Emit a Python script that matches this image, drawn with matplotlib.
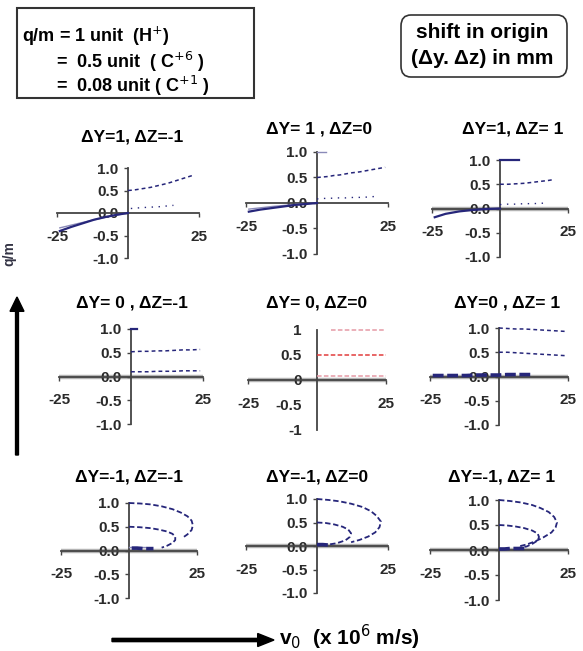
import matplotlib
matplotlib.use("Agg")
import matplotlib.pyplot as plt
from matplotlib.patches import FancyBboxPatch, Rectangle, FancyArrow

plt.rcParams['font.family'] = ['Liberation Sans', 'DejaVu Sans']

W, H = 583, 651

# panel titles, row by row
titles = ["ΔY=1, ΔZ=-1", "ΔY= 1 , ΔZ=0", "ΔY=1, ΔZ= 1",
          "ΔY= 0 , ΔZ=-1", "ΔY= 0, ΔZ=0", "ΔY=0 , ΔZ= 1",
          "ΔY=-1, ΔZ=-1", "ΔY=-1, ΔZ=0", "ΔY=-1, ΔZ= 1"]

x_ticks = [-25, 25]
y_ticks = [-1.0, -0.5, 0.0, 0.5, 1.0]

# ---- data: v0 (x 1e6 m/s) vs q/m ----
# panel 1  (dY=1, dZ=-1)
p1_hi_v = [0, 2, 4, 6, 8, 10, 12, 14, 16, 18, 20, 23]
p1_hi_q = [0.50, 0.51, 0.53, 0.55, 0.57, 0.60, 0.63, 0.66, 0.70, 0.74, 0.78, 0.84]
p1_lo_v = [1, 3, 5, 8, 11, 16]
p1_lo_q = [0.10, 0.11, 0.12, 0.13, 0.14, 0.17]
p1_neg_v = [-24, -20, -16, -12, -8, -4, 0]
p1_neg_q = [-0.40, -0.31, -0.23, -0.15, -0.09, -0.04, 0.0]
p1_neg2_v = [-24, -18, -12, -6, 0]
p1_neg2_q = [-0.33, -0.24, -0.15, -0.07, 0.0]

# panel 2  (dY=1, dZ=0)
p2_top_v = [0, 3]
p2_top_q = [1.0, 1.0]
p2_hi_v = [0, 2, 4, 6, 8, 10, 12, 15, 18, 21, 24]
p2_hi_q = [0.50, 0.51, 0.52, 0.54, 0.55, 0.57, 0.59, 0.61, 0.64, 0.67, 0.70]
p2_lo_v = [0, 2, 4, 7, 10, 13, 16, 21]
p2_lo_q = [0.08, 0.09, 0.09, 0.10, 0.10, 0.11, 0.11, 0.13]
p2_neg_v = [-24, -20, -16, -12, -8, -4, 0]
p2_neg_q = [-0.17, -0.13, -0.10, -0.07, -0.04, -0.02, 0.0]
p2_neg2_v = [-24, -16, -8, 0]
p2_neg2_q = [-0.12, -0.07, -0.03, 0.0]

# panel 3  (dY=1, dZ=1)
p3_top_v = [0, 7]
p3_top_q = [1.0, 1.0]
p3_hi_v = [0, 3, 6, 9, 12, 15, 18, 20]
p3_hi_q = [0.50, 0.50, 0.51, 0.52, 0.54, 0.56, 0.58, 0.60]
p3_lo_v = [0, 3, 6, 9, 12, 16]
p3_lo_q = [0.08, 0.09, 0.09, 0.10, 0.10, 0.11]
p3_neg_v = [-24, -20, -15, -10, -5, 0]
p3_neg_q = [-0.18, -0.11, -0.06, -0.03, -0.01, 0.0]

# panel 4  (dY=0, dZ=-1)
p4_top_v = [0, 2]
p4_top_q = [1.0, 1.0]
p4_hi_v = [0, 3, 6, 9, 12, 15, 18, 21, 24]
p4_hi_q = [0.52, 0.53, 0.53, 0.54, 0.54, 0.55, 0.56, 0.56, 0.57]
p4_lo_v = [0, 3, 6, 9, 12, 15, 18, 21, 24]
p4_lo_q = [0.10, 0.10, 0.10, 0.11, 0.11, 0.11, 0.12, 0.12, 0.12]

# panel 5  (dY=0, dZ=0)
p5_top_v = [5, 8, 11, 14, 17, 20, 23, 25]
p5_top_q = [1.0, 1.0, 1.0, 1.0, 1.0, 1.0, 1.0, 1.0]
p5_hi_v = [0, 5, 10, 15, 20, 25]
p5_hi_q = [0.5, 0.5, 0.5, 0.5, 0.5, 0.5]
p5_lo_v = [0, 5, 10, 15, 20, 25]
p5_lo_q = [0.08, 0.08, 0.08, 0.08, 0.08, 0.08]

# panel 6  (dY=0, dZ=1)
p6_top_v = [0, 3, 6, 9, 12, 15, 18, 21, 24]
p6_top_q = [1.0, 0.99, 0.98, 0.98, 0.97, 0.96, 0.95, 0.94, 0.93]
p6_hi_v = [0, 3, 6, 9, 12, 15, 18, 21, 24]
p6_hi_q = [0.50, 0.50, 0.49, 0.48, 0.47, 0.46, 0.45, 0.44, 0.43]
p6_lo_v = [-24, -20, -16, -12, -8, -4, 0, 3, 6, 9, 12]
p6_lo_q = [0.02, 0.02, 0.02, 0.02, 0.03, 0.03, 0.03, 0.04, 0.04, 0.04, 0.04]

# panel 7  (dY=-1, dZ=-1)
p7_out_v = [0, 4, 8, 12, 16, 19, 21.5, 23, 23.5, 23, 21.5, 19.5]
p7_out_q = [1.0, 0.99, 0.97, 0.93, 0.87, 0.80, 0.72, 0.63, 0.53, 0.43, 0.34, 0.26]
p7_mid_v = [0, 4, 8, 11, 14, 16, 17, 17, 16, 14, 12]
p7_mid_q = [0.50, 0.49, 0.47, 0.44, 0.40, 0.35, 0.29, 0.22, 0.16, 0.10, 0.06]
p7_in_v = [1, 3, 5, 7, 9]
p7_in_q = [0.05, 0.05, 0.04, 0.04, 0.04]
p7_grey_v = [0, 6]
p7_grey_q = [0.08, 0.08]

# panel 8  (dY=-1, dZ=0)
p8_out_v = [0, 4, 8, 12, 16, 19, 21, 22.5, 22, 20.5, 18, 15, 12]
p8_out_q = [1.0, 0.98, 0.95, 0.90, 0.83, 0.74, 0.64, 0.52, 0.40, 0.29, 0.20, 0.13, 0.08]
p8_mid_v = [0, 3, 6, 9, 11, 12, 11.5, 10, 7, 4]
p8_mid_q = [0.50, 0.49, 0.46, 0.41, 0.35, 0.27, 0.19, 0.12, 0.06, 0.03]
p8_in_v = [0, 2, 4]
p8_in_q = [0.03, 0.03, 0.02]

# panel 9  (dY=-1, dZ=1)
p9_out_v = [0, 4, 8, 12, 15, 18, 20, 21, 20.5, 19, 16, 13, 10, 7]
p9_out_q = [1.0, 0.98, 0.95, 0.90, 0.84, 0.76, 0.66, 0.55, 0.45, 0.35, 0.25, 0.17, 0.11, 0.07]
p9_mid_v = [0, 3, 6, 9, 12, 14, 14.5, 14, 12, 10, 7]
p9_mid_q = [0.50, 0.49, 0.47, 0.44, 0.39, 0.33, 0.26, 0.19, 0.12, 0.07, 0.04]
p9_in_v = [0, 2, 4, 6, 8, 10]
p9_in_q = [0.02, 0.02, 0.03, 0.03, 0.03, 0.03]

# ---- styles ----
NAVY = '#26267a'
LIGHT = '#8a8ab8'
GREY = '#b4b4b4'
STY = {
    'dash':  dict(color=NAVY, lw=1.1, ls=(0, (2.5, 2))),
    'dots':  dict(color=NAVY, lw=1.0, ls=(0, (1, 4))),
    'solid': dict(color=NAVY, lw=1.6, ls='-'),
    'light': dict(color=LIGHT, lw=1.0, ls='-'),
    'thick': dict(color=NAVY, lw=2.6, ls=(0, (3, 1))),
    'arc':   dict(color=NAVY, lw=1.3, ls=(0, (3, 1.5))),
    'red':   dict(color='#e23c3c', lw=1.1, ls=(0, (3, 1.5))),
    'pink':  dict(color='#e59aa6', lw=1.1, ls=(0, (3, 1.5))),
}

panels = [
    [(p1_hi_v, p1_hi_q, 'dash'), (p1_lo_v, p1_lo_q, 'dots'),
     (p1_neg2_v, p1_neg2_q, 'light'), (p1_neg_v, p1_neg_q, 'solid')],
    [(p2_top_v, p2_top_q, 'light'), (p2_hi_v, p2_hi_q, 'dash'), (p2_lo_v, p2_lo_q, 'dots'),
     (p2_neg2_v, p2_neg2_q, 'light'), (p2_neg_v, p2_neg_q, 'solid')],
    [(p3_top_v, p3_top_q, 'solid'), (p3_hi_v, p3_hi_q, 'dash'), (p3_lo_v, p3_lo_q, 'dots'),
     (p3_neg_v, p3_neg_q, 'solid')],
    [(p4_top_v, p4_top_q, 'solid'), (p4_hi_v, p4_hi_q, 'dash'), (p4_lo_v, p4_lo_q, 'dash')],
    [(p5_top_v, p5_top_q, 'pink'), (p5_hi_v, p5_hi_q, 'red'), (p5_lo_v, p5_lo_q, 'pink')],
    [(p6_top_v, p6_top_q, 'dash'), (p6_hi_v, p6_hi_q, 'dash'), (p6_lo_v, p6_lo_q, 'thick')],
    [(p7_grey_v, p7_grey_q, 'light'), (p7_out_v, p7_out_q, 'arc'), (p7_mid_v, p7_mid_q, 'arc'),
     (p7_in_v, p7_in_q, 'thick')],
    [(p8_out_v, p8_out_q, 'arc'), (p8_mid_v, p8_mid_q, 'arc'), (p8_in_v, p8_in_q, 'thick')],
    [(p9_out_v, p9_out_q, 'arc'), (p9_mid_v, p9_mid_q, 'arc'), (p9_in_v, p9_in_q, 'thick')],
]
grey_axis = [False, False, True, True, True, True, True, True, True]

# axes boxes in pixels: x(-25), x(25), y(q=1), y(q=-1)
boxes = [(57, 199, 168, 258), (246, 388, 152, 254), (432, 568, 160, 257),
         (59, 203, 329, 424), (248, 386, 330, 430), (430, 568, 328, 425),
         (61, 197, 503, 598), (246, 388, 499, 593), (430, 568, 500, 600)]
title_pos = [(132, 137), (319, 129), (513, 129),
             (132, 303), (317, 303), (507, 303),
             (129, 477), (317, 477), (502, 477)]

fig = plt.figure(figsize=(W / 100, H / 100), dpi=100)

for i, (x0, x1, yt, yb) in enumerate(boxes):
    ax = fig.add_axes([x0 / W, 1 - yb / H, (x1 - x0) / W, (yb - yt) / H])
    ax.set_xlim(-25, 25)
    ax.set_ylim(-1, 1)
    ax.patch.set_alpha(0)
    if grey_axis[i]:
        ax.axhline(0, color=GREY, lw=3.2, zorder=1)
    for v, q, st in panels[i]:
        ax.plot(v, q, clip_on=False, zorder=3, **STY[st])
    for s in ['top', 'right']:
        ax.spines[s].set_visible(False)
    ax.spines['left'].set_position(('data', 0))
    ax.spines['bottom'].set_position(('data', 0))
    for s in ['left', 'bottom']:
        ax.spines[s].set_color('#444444')
        ax.spines[s].set_linewidth(1.3)
    ax.set_xticks(x_ticks)
    ax.set_xticklabels([str(t) for t in x_ticks])
    ax.set_yticks(y_ticks)
    if i == 4:
        ax.set_yticklabels(['-1', '-0.5', '0', '0.5', '1'])
        ax.tick_params(axis='y', length=0, pad=11)
    else:
        ax.set_yticklabels(['%.1f' % t for t in y_ticks])
        ax.tick_params(axis='y', length=3, width=1, color='#444444', pad=4)
    ax.tick_params(axis='x', length=3, width=1, color='#444444', pad=9)
    ax.tick_params(labelsize=11, labelcolor='#2a2a2a')
    for lab in ax.get_xticklabels() + ax.get_yticklabels():
        lab.set_fontweight('bold')
    fig.text(title_pos[i][0] / W, 1 - title_pos[i][1] / H, titles[i],
             ha='center', va='center', fontsize=12.5, fontweight='bold')

# legend box (top left)
fig.patches.append(Rectangle((17 / W, 1 - 98 / H), 237 / W, 90 / H,
                             transform=fig.transFigure, fill=False,
                             ec='#333333', lw=1.5))
fig.text(22 / W, 1 - 36 / H, r"q/m = 1 unit  (H$^{+}$)", fontsize=13,
         fontweight='bold', va='center')
fig.text(56 / W, 1 - 62 / H, r"=  0.5 unit  ( C$^{+6}$ )", fontsize=13,
         fontweight='bold', va='center')
fig.text(56 / W, 1 - 86 / H, r"=  0.08 unit ( C$^{+1}$ )", fontsize=13,
         fontweight='bold', va='center')

# shift-in-origin box (top right)
fig.patches.append(FancyBboxPatch((401 / W, 1 - 77 / H), 166 / W, 62 / H,
                                  boxstyle="round,pad=0,rounding_size=0.017",
                                  transform=fig.transFigure, fill=False,
                                  ec='#333333', lw=1.2))
fig.text(482 / W, 1 - 32 / H, "shift in origin", ha='center', va='center',
         fontsize=15, fontweight='bold')
fig.text(482 / W, 1 - 59 / H, "(Δy. Δz) in mm", ha='center', va='center',
         fontsize=15, fontweight='bold')

# big axis arrows
fig.patches.append(FancyArrow(
    17 / W, 1 - 455 / H, 0, 158 / H, width=0.005, head_width=0.024,
    head_length=0.022, length_includes_head=True, color='black',
    transform=fig.transFigure))
fig.text(9 / W, 1 - 254 / H, "q/m", rotation=90, ha='center', va='center',
         fontsize=10, fontweight='bold', color='#334')
fig.patches.append(FancyArrow(
    112 / W, 1 - 640 / H, 162 / W, 0, width=0.005, head_width=0.02,
    head_length=0.028, length_includes_head=True, color='black',
    transform=fig.transFigure))
fig.text(279 / W, 1 - 637 / H, r"v$_{0}$  (x 10$^{6}$ m/s)", va='center',
         fontsize=15, fontweight='bold')

fig.savefig("out.png", dpi=100)
